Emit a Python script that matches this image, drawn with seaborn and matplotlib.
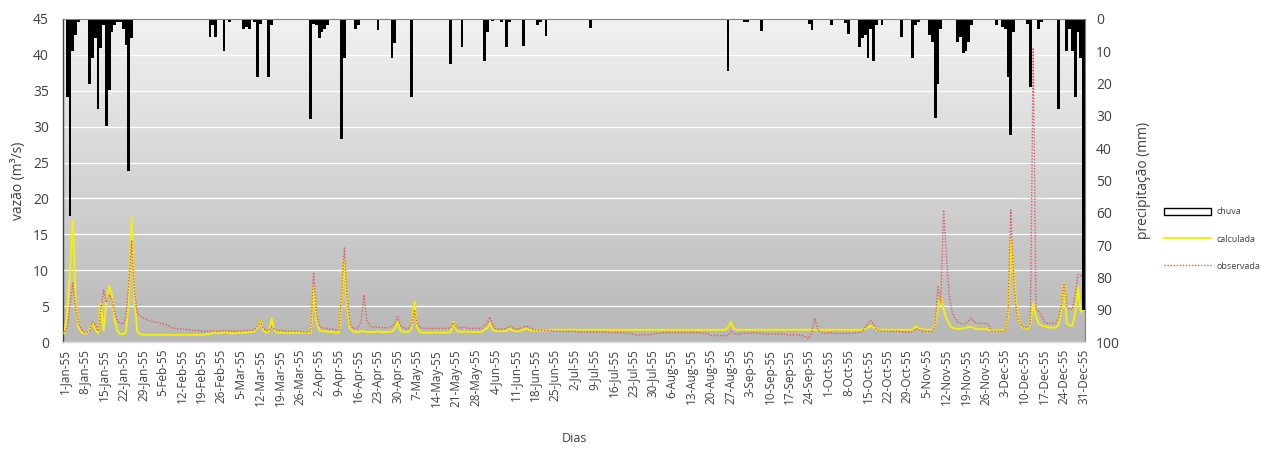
import numpy as np
import pandas as pd
import matplotlib
matplotlib.use("Agg")
import matplotlib.pyplot as plt
from matplotlib.colors import LinearSegmentedColormap
from matplotlib.patches import Patch
from matplotlib.lines import Line2D
import seaborn as sns

# ---- daily rainfall (mm), 1955, one list per month ----
chuva_jan = [0, 24, 61, 10, 5, 1, 0, 0, 0, 20, 12, 6, 28, 9, 2, 33, 22, 4, 2, 1,
             1, 3, 8, 47, 6, 0, 0, 0, 0, 0, 0]
chuva_feb = [0, 0, 0, 0, 0, 0, 0, 0, 0, 0, 0, 0, 0, 0, 0, 0, 0, 0, 0, 0,
             0, 5.5, 2, 5.5, 0, 0, 10, 0]
chuva_mar = [1, 0, 0, 0, 0, 3, 2.5, 3, 0, 1, 18, 1.5, 0, 0, 18, 2, 0, 0, 0, 0,
             0, 0, 0, 0, 0, 0, 0, 0, 0, 31, 1.5]
chuva_apr = [2, 6, 4, 3, 2, 0, 0, 0, 0, 37, 12, 0, 0, 0, 3, 2, 0, 0, 0, 0,
             0, 0, 3.3, 0, 0, 0, 0, 12, 7.5, 0]
chuva_may = [0, 0, 0, 0, 24, 0, 0, 0, 0, 0, 0, 0, 0, 0, 0, 0, 0, 0, 14, 0,
             0, 0, 8.8, 0, 0, 0, 0, 0, 0, 0, 13]
chuva_jun = [4, 0, 0.5, 0, 0, 1, 0, 8.8, 1, 0, 0, 0, 0, 8.3, 0, 0, 0, 0, 1.9, 1,
             0, 5.2, 0, 0, 0, 0, 0, 0, 0, 0]
chuva_jul = [0, 0, 0, 0, 0, 0, 0, 2.8, 0, 0, 0, 0, 0, 0, 0, 0, 0, 0, 0, 0,
             0, 0, 0, 0, 0, 0, 0, 0, 0, 0, 0]
chuva_aug = [0, 0, 0, 0, 0, 0, 0, 0, 0, 0, 0, 0, 0, 0, 0, 0, 0, 0, 0, 0,
             0, 0, 0, 0, 0, 16, 0, 0, 0, 0, 0]
chuva_sep = [0.8, 1, 0, 0, 0, 0, 3.6, 0, 0, 0, 0, 0, 0, 0, 0, 0, 0, 0, 0, 0,
             0, 0, 0, 1.5, 3.3, 0, 0, 0, 0, 0]
chuva_oct = [0, 2, 0, 0, 0, 0, 1.2, 4.7, 0, 0, 0, 8.8, 6, 5, 12, 3, 13, 2, 0, 2,
             0, 0, 0, 0, 0, 0, 5.5, 0, 0, 0, 12]
chuva_nov = [2, 1, 0, 0, 0, 5, 7, 30.5, 20, 3, 0, 0, 0, 0, 0, 7.2, 5.5, 10.4, 10, 7,
             2, 0, 0, 0, 0, 0, 0, 0, 0, 2]
chuva_dec = [0, 2.6, 3, 18, 36, 4, 0, 0, 0, 0, 1.5, 21, 0, 0, 3, 1, 0, 0, 0, 0,
             0, 28, 0, 0, 10, 3, 10, 24, 4, 12, 90]

# ---- simulated discharge (m3/s) ----
calc_jan = [1.2, 4.0, 10.0, 17.0, 6.0, 2.1, 1.4, 1.2, 1.2, 1.8,
            2.6, 1.8, 1.2, 5.4, 1.6, 5.5, 7.8, 6.5, 3.0, 1.5,
            1.1, 1.1, 1.3, 6.0, 17.3, 6.0, 1.5, 1.1, 1.0, 1.0, 1.0]
calc_feb = [1.0, 1.0, 1.0, 1.0, 1.0, 1.0, 1.0, 1.0, 1.0, 1.0,
            1.0, 1.0, 1.0, 1.0, 1.0, 1.0, 1.0, 1.0, 1.0, 1.0,
            1.1, 1.1, 1.3, 1.2, 1.3, 1.2, 1.4, 1.3]
calc_mar = [1.3, 1.2, 1.2, 1.3, 1.3, 1.3, 1.3, 1.4, 1.4, 1.5,
            2.0, 3.0, 1.6, 1.3, 1.4, 3.3, 1.6, 1.3, 1.3, 1.3,
            1.3, 1.3, 1.3, 1.3, 1.3, 1.3, 1.3, 1.3, 1.3, 1.3, 7.8]
calc_apr = [3.0, 1.6, 1.5, 1.5, 1.4, 1.4, 1.4, 1.3, 1.3, 6.0,
            11.5, 5.0, 1.8, 1.5, 1.4, 1.4, 1.5, 1.5, 1.4, 1.4,
            1.4, 1.4, 1.5, 1.4, 1.4, 1.4, 1.4, 1.5, 1.8, 2.8]
calc_may = [1.6, 1.4, 1.4, 1.4, 2.0, 5.6, 2.0, 1.4, 1.3, 1.3,
            1.3, 1.3, 1.3, 1.3, 1.3, 1.3, 1.3, 1.3, 1.4, 2.8,
            1.6, 1.4, 1.4, 1.5, 1.4, 1.4, 1.4, 1.4, 1.4, 1.4, 1.7]
calc_jun = [1.9, 2.6, 1.7, 1.5, 1.5, 1.5, 1.5, 1.6, 1.9, 1.6,
            1.5, 1.5, 1.6, 1.7, 1.9, 1.7, 1.6, 1.6, 1.6, 1.6,
            1.6, 1.6, 1.7, 1.7, 1.7, 1.7, 1.7, 1.7, 1.7, 1.7]
calc_jul = [1.7, 1.7, 1.7, 1.7, 1.7, 1.7, 1.7, 1.7, 1.7, 1.7,
            1.7, 1.7, 1.7, 1.7, 1.7, 1.7, 1.7, 1.7, 1.7, 1.7,
            1.7, 1.7, 1.7, 1.7, 1.7, 1.7, 1.7, 1.7, 1.7, 1.7, 1.7]
calc_aug = [1.7, 1.7, 1.7, 1.7, 1.7, 1.7, 1.7, 1.7, 1.7, 1.7,
            1.7, 1.7, 1.7, 1.7, 1.7, 1.7, 1.7, 1.7, 1.7, 1.7,
            1.7, 1.7, 1.7, 1.7, 1.7, 2.0, 2.8, 1.9, 1.7, 1.7, 1.7]
calc_sep = [1.7, 1.7, 1.7, 1.7, 1.7, 1.7, 1.7, 1.7, 1.7, 1.7,
            1.7, 1.7, 1.7, 1.7, 1.7, 1.7, 1.7, 1.7, 1.7, 1.7,
            1.7, 1.7, 1.7, 1.7, 1.7, 1.7, 1.7, 1.7, 1.7, 1.7]
calc_oct = [1.7, 1.7, 1.7, 1.7, 1.7, 1.7, 1.7, 1.7, 1.7, 1.7,
            1.7, 1.7, 1.7, 1.8, 2.0, 2.3, 2.0, 1.8, 1.7, 1.7,
            1.7, 1.7, 1.7, 1.7, 1.7, 1.7, 1.7, 1.7, 1.7, 1.7, 1.7]
calc_nov = [2.2, 1.9, 1.8, 1.7, 1.7, 1.7, 1.7, 2.5, 5.0, 6.3,
            4.5, 3.3, 2.5, 2.0, 1.9, 1.8, 1.8, 1.9, 2.0, 2.1,
            2.1, 1.9, 1.8, 1.8, 1.8, 1.8, 1.7, 1.7, 1.6, 1.6]
calc_dec = [1.6, 1.6, 1.7, 3.5, 14.3, 9.6, 5.0, 3.0, 2.1, 1.9,
            1.8, 2.5, 5.4, 3.5, 2.6, 2.3, 2.2, 2.1, 2.0, 2.0,
            2.0, 2.4, 4.5, 8.2, 2.6, 2.3, 2.3, 4.0, 7.7, 4.2, 4.5]

# ---- observed discharge (m3/s) ----
obs_jan = [1.4, 2.0, 5.0, 8.2, 5.0, 2.6, 1.8, 1.4, 1.3, 1.6,
           2.8, 2.4, 1.5, 4.5, 7.3, 5.5, 6.6, 5.9, 4.0, 2.9,
           2.6, 2.5, 3.5, 8.0, 14.2, 7.0, 4.0, 3.6, 3.4, 3.2, 3.0]
obs_feb = [2.9, 2.7, 2.8, 2.6, 2.5, 2.5, 2.3, 2.0, 1.9, 1.9,
           1.8, 1.8, 1.8, 1.7, 1.7, 1.6, 1.6, 1.6, 1.5, 1.5,
           1.5, 1.5, 1.6, 1.5, 1.5, 1.5, 1.6, 1.5]
obs_mar = [1.5, 1.5, 1.5, 1.5, 1.5, 1.6, 1.6, 1.6, 1.6, 1.7,
           2.2, 2.9, 1.9, 1.6, 1.6, 2.1, 1.8, 1.6, 1.6, 1.6,
           1.5, 1.5, 1.5, 1.5, 1.5, 1.5, 1.4, 1.4, 1.4, 1.5, 9.7]
obs_apr = [4.0, 2.2, 2.0, 1.9, 1.9, 1.8, 1.8, 1.7, 1.7, 6.5,
           13.1, 6.0, 2.5, 1.9, 1.9, 2.0, 3.0, 6.6, 3.0, 2.3,
           2.1, 2.1, 2.1, 2.0, 2.0, 2.0, 2.0, 2.2, 2.6, 3.5]
obs_may = [2.3, 2.0, 1.9, 1.9, 2.5, 4.5, 2.6, 2.0, 1.9, 1.9,
           1.9, 1.9, 1.9, 1.9, 1.9, 1.9, 1.9, 1.9, 2.0, 2.7,
           2.1, 1.9, 2.0, 2.1, 1.9, 1.9, 1.9, 1.9, 1.9, 1.9, 2.3]
obs_jun = [2.6, 3.5, 2.3, 1.9, 1.8, 1.8, 1.8, 1.9, 2.2, 2.0,
           1.8, 1.8, 1.9, 2.1, 2.2, 2.0, 1.8, 1.7, 1.7, 1.6,
           1.6, 1.6, 1.6, 1.6, 1.5, 1.5, 1.5, 1.5, 1.5, 1.5]
obs_jul = [1.5, 1.5, 1.5, 1.4, 1.4, 1.4, 1.4, 1.4, 1.4, 1.4,
           1.4, 1.4, 1.4, 1.3, 1.3, 1.3, 1.3, 1.3, 1.3, 1.3,
           1.2, 1.2, 1.1, 1.0, 1.0, 1.0, 1.0, 1.0, 1.0, 1.1, 1.2]
obs_aug = [1.2, 1.2, 1.3, 1.3, 1.3, 1.3, 1.3, 1.3, 1.3, 1.3,
           1.3, 1.3, 1.3, 1.3, 1.3, 1.3, 1.2, 1.2, 1.1, 0.9,
           0.9, 0.9, 0.9, 0.9, 0.9, 0.9, 1.5, 1.2, 1.1, 1.1, 1.2]
obs_sep = [1.2, 1.2, 1.2, 1.3, 1.3, 1.2, 1.2, 1.1, 1.1, 1.1,
           1.1, 1.1, 1.1, 1.1, 1.1, 1.0, 1.0, 1.0, 1.0, 1.0,
           0.9, 0.9, 0.6, 0.5, 1.5, 3.3, 1.8, 1.3, 1.2, 1.2]
obs_oct = [1.3, 1.3, 1.2, 1.2, 1.2, 1.2, 1.2, 1.2, 1.2, 1.2,
           1.3, 1.3, 1.5, 2.0, 2.6, 3.0, 2.4, 1.8, 1.6, 1.5,
           1.5, 1.5, 1.5, 1.5, 1.5, 1.5, 1.4, 1.4, 1.4, 1.4, 1.5]
obs_nov = [1.8, 1.8, 1.6, 1.5, 1.5, 1.5, 1.5, 2.5, 7.7, 5.5,
           18.4, 12.0, 6.5, 4.2, 3.3, 2.8, 2.6, 2.5, 2.6, 3.0,
           3.3, 2.8, 2.6, 2.6, 2.6, 2.6, 2.5, 1.6, 1.5, 1.5]
obs_dec = [1.5, 1.5, 1.5, 4.0, 18.4, 9.0, 4.3, 3.0, 2.2, 2.0,
           2.0, 2.6, 41.0, 4.6, 4.3, 3.6, 2.8, 2.6, 2.6, 2.6,
           2.6, 3.2, 5.0, 8.0, 5.0, 4.5, 4.6, 6.5, 9.4, 9.3, 9.0]

chuva = (chuva_jan + chuva_feb + chuva_mar + chuva_apr + chuva_may + chuva_jun
         + chuva_jul + chuva_aug + chuva_sep + chuva_oct + chuva_nov + chuva_dec)
calculada = (calc_jan + calc_feb + calc_mar + calc_apr + calc_may + calc_jun
             + calc_jul + calc_aug + calc_sep + calc_oct + calc_nov + calc_dec)
observada = (obs_jan + obs_feb + obs_mar + obs_apr + obs_may + obs_jun
             + obs_jul + obs_aug + obs_sep + obs_oct + obs_nov + obs_dec)

datas = pd.date_range("1955-01-01", "1955-12-31", freq="D")
tick_pos = list(range(0, 365, 7))
tick_labels = [f"{datas[i].day}-{datas[i].strftime('%b')}-55" for i in tick_pos]

df = pd.DataFrame({
    "dia": np.arange(len(datas)),
    "chuva": chuva,
    "calculada": calculada,
    "observada": observada,
})

plt.rcParams["font.family"] = ["Open Sans", "DejaVu Sans"]
txt = "#404040"
amarelo = "#f5f000"
vermelho = "#e05a5a"

W, H = 1265, 449
fig = plt.figure(figsize=(W / 100, H / 100), dpi=100)
rect = [63 / W, 1 - 342 / H, 1022 / W, 323 / H]

# gradient plot-area background
bg = fig.add_axes(rect, zorder=-1)
grad = np.linspace(0, 1, 256).reshape(-1, 1)
bg.imshow(grad, aspect="auto", origin="lower", extent=[0, 1, 0, 1],
          cmap=LinearSegmentedColormap.from_list("bg", ["#b7b7b7", "#f1f1f1"]))
bg.axis("off")

ax = fig.add_axes(rect)
ax.patch.set_alpha(0)

sns.lineplot(data=df, x="dia", y="calculada", ax=ax, color=amarelo,
             linewidth=1.4, zorder=3, legend=False)
sns.lineplot(data=df, x="dia", y="observada", ax=ax, color=vermelho,
             linewidth=1.0, zorder=4, legend=False)
ax.lines[-1].set_linestyle((0, (1, 1.2)))

ax.set_xlim(-0.5, 364.5)
ax.set_ylim(0, 45)
ax.set_yticks(range(0, 46, 5))
ax.yaxis.grid(True, color="white", linewidth=0.9)
ax.xaxis.grid(False)
ax.set_axisbelow(True)
ax.set_xticks(tick_pos)
ax.set_xticklabels(tick_labels, rotation=90, fontsize=8.5, color=txt)
ax.tick_params(axis="x", length=0, pad=5)
ax.tick_params(axis="y", length=0, pad=10, labelsize=10, labelcolor=txt)
ax.set_ylabel("vazão (m³/s)", fontsize=10, color=txt)
ax.yaxis.set_label_coords(-0.036, 0.5)
ax.set_xlabel("Dias", fontsize=9, color=txt)
ax.xaxis.set_label_coords(0.5, -0.28)
for s in ["top", "right", "bottom"]:
    ax.spines[s].set_visible(False)
ax.spines["left"].set_color("#404040")
ax.spines["left"].set_linewidth(1.0)

# rainfall hanging from the top on an inverted secondary axis
ax2 = ax.twinx()
sns.barplot(data=df, x="dia", y="chuva", ax=ax2, native_scale=True,
            color="black", width=1.0, saturation=1, errorbar=None, linewidth=0)
ax2.set_xlim(-0.5, 364.5)
ax2.set_ylim(100, 0)
ax2.set_yticks(range(0, 101, 10))
ax2.tick_params(axis="y", length=0, pad=8, labelsize=10, labelcolor=txt)
ax2.set_ylabel("precipitação (mm)", fontsize=10, color=txt)
ax2.yaxis.set_label_coords(1.05, 0.5)
ax2.set_xlabel("")
ax2.spines["left"].set_visible(False)
ax2.spines["top"].set_color("#7f7f7f")
ax2.spines["top"].set_linewidth(0.8)
ax2.spines["right"].set_color("#7f7f7f")
ax2.spines["right"].set_linewidth(0.8)
ax2.spines["bottom"].set_color("#d9d9d9")
ax2.spines["bottom"].set_linewidth(1.0)
ax2.tick_params(axis="x", length=0)

handles = [
    Patch(facecolor="white", edgecolor="black", linewidth=1.0),
    Line2D([], [], color=amarelo, linewidth=1.3),
    Line2D([], [], color=vermelho, linewidth=1.0, linestyle=(0, (1, 1.2))),
]
fig.legend(handles, ["chuva", "calculada", "observada"], loc="center left",
           bbox_to_anchor=(1156 / W, 1 - 239 / H), frameon=False, fontsize=6.5,
           handlelength=5.2, handleheight=0.9, labelspacing=2.0,
           handletextpad=0.6, labelcolor=txt)

fig.savefig("out.png", dpi=100, facecolor="white")
